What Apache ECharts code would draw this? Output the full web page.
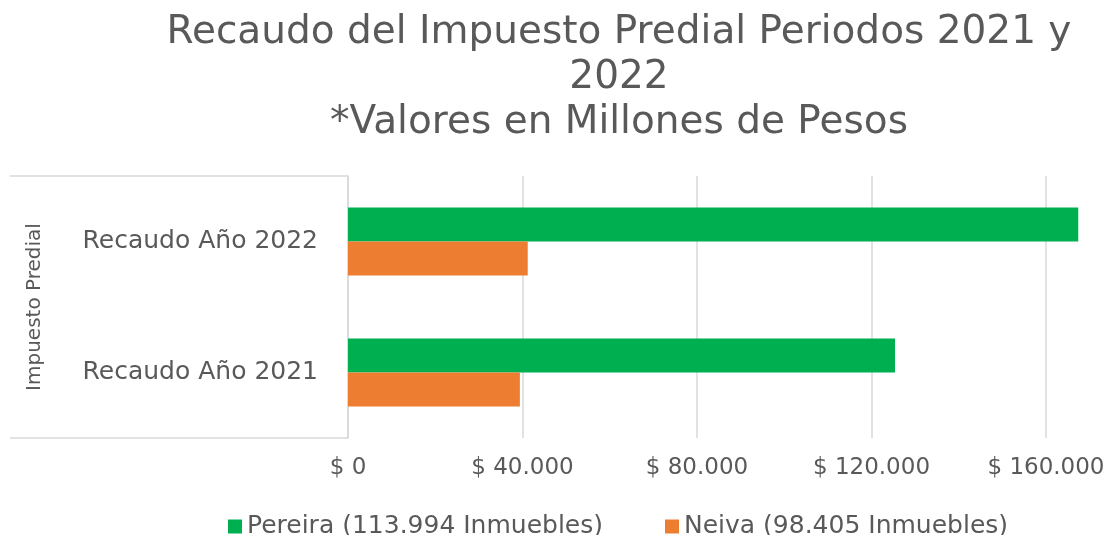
<!DOCTYPE html>
<html>
<head>
<meta charset="utf-8">
<script src="https://cdn.jsdelivr.net/npm/echarts@6/dist/echarts.min.js"></script>
<style>
html,body{margin:0;padding:0;background:#fff;}
#chart{width:1111px;height:535px;}
</style>
</head>
<body>
<div id="chart"></div>
<script>
const categories = ['Recaudo Año 2021', 'Recaudo Año 2022'];
const pereiraValues = [125400, 167400];
const neivaValues = [39400, 41200];
const seriesNames = ['Pereira (113.994 Inmuebles)', 'Neiva (98.405 Inmuebles)'];
const tickValues = [0, 40000, 80000, 120000, 160000];
const titleText = 'Recaudo del Impuesto Predial Periodos 2021 y\n2022\n*Valores en Millones de Pesos';
const axisName = 'Impuesto Predial';

function fmt(v) {
  return '$ ' + String(v).replace(/\B(?=(\d{3})+(?!\d))/g, '.');
}

const FONT = 'DejaVu Sans';
const GREY = '#595959';
const chart = echarts.init(document.getElementById('chart'), null, {renderer: 'canvas'});
chart.setOption({
  animation: false,
  backgroundColor: '#fff',
  title: {
    text: titleText,
    left: 614, top: 5, textAlign: 'center',
    textStyle: {fontFamily: FONT, fontSize: 39, fontWeight: 'normal', color: GREY, lineHeight: 45}
  },
  legend: {
    data: seriesNames,
    left: 223, top: 509,
    itemWidth: 14, itemHeight: 14, itemGap: 62,
    icon: 'rect',
    textStyle: {fontFamily: FONT, fontSize: 25, color: GREY}
  },
  grid: {left: 348, right: 21.4, top: 176, bottom: 97, outerBoundsMode: 'none', containLabel: false},
  xAxis: {
    type: 'value', min: 0, max: 170000, interval: 40000,
    axisLine: {show: false}, axisTick: {show: false, customValues: tickValues},
    splitLine: {show: true, lineStyle: {color: '#d9d9d9', width: 1.5}},
    axisLabel: {customValues: tickValues, formatter: fmt, fontFamily: FONT, fontSize: 23, color: GREY, margin: 19}
  },
  yAxis: {
    type: 'category', data: categories,
    name: axisName, nameLocation: 'middle', nameGap: 303, nameRotate: 90,
    nameTextStyle: {fontFamily: FONT, fontSize: 20, color: GREY},
    axisLine: {show: true, lineStyle: {color: '#d9d9d9', width: 1.5}},
    axisTick: {show: false},
    axisLabel: {fontFamily: FONT, fontSize: 25, color: GREY, margin: 30}
  },
  graphic: [
    {type: 'line', shape: {x1: 10, y1: 176, x2: 348, y2: 176}, style: {stroke: '#d9d9d9', lineWidth: 1.5}},
    {type: 'line', shape: {x1: 10, y1: 438, x2: 348, y2: 438}, style: {stroke: '#d9d9d9', lineWidth: 1.5}}
  ],
  series: [
    {name: seriesNames[0], type: 'bar', data: pereiraValues, itemStyle: {color: '#00B050'}, barGap: '0%', barCategoryGap: '48%'},
    {name: seriesNames[1], type: 'bar', data: neivaValues, itemStyle: {color: '#ED7D31'}, barGap: '0%', barCategoryGap: '48%'}
  ]
});
</script>
</body>
</html>
